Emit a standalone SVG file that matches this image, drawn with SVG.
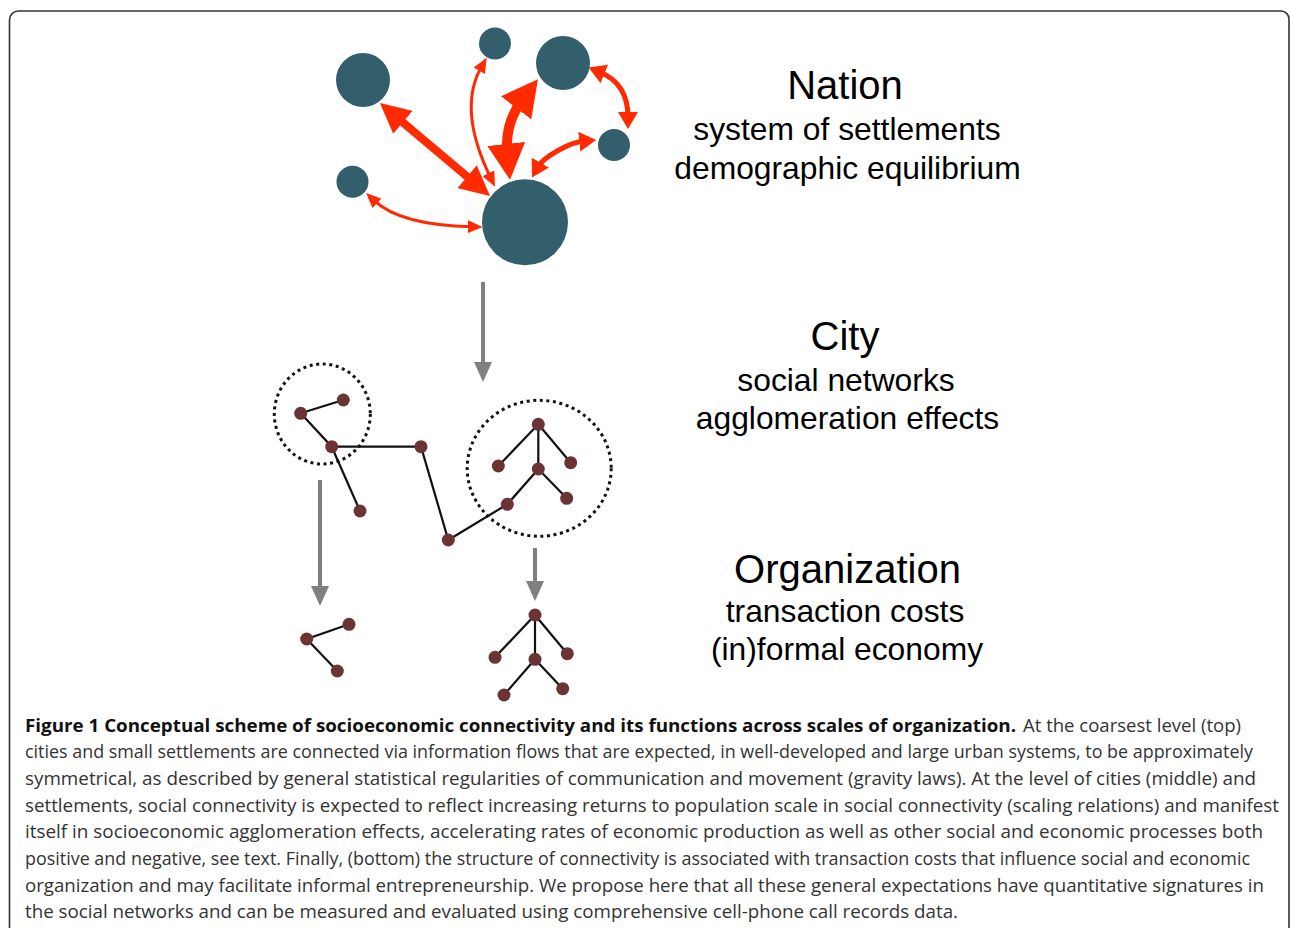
<svg xmlns="http://www.w3.org/2000/svg" width="1290" height="928" viewBox="0 0 1290 928">
  <style>
    .settlement { fill: #335e6b; }
    .flow { fill: none; stroke: #ff2a00; stroke-linecap: butt; }
    .scale { fill: none; stroke: #808080; stroke-width: 4; }
    .person { fill: #6b3333; }
    .tie { stroke: #111; stroke-width: 2.2; fill: none; }
    .group { fill: none; stroke: #111; stroke-width: 3; stroke-dasharray: 3 3.6; }
    .title { font-family: "Liberation Sans", Arial, sans-serif; font-size: 40px; fill: #000; text-anchor: middle; }
    .sub { font-family: "Liberation Sans", Arial, sans-serif; font-size: 31.8px; fill: #000; text-anchor: middle; }
    .cap { font-family: "Open Sans", "Noto Sans", sans-serif; font-size: 17.5px; fill: #333; }
    .capb { font-family: "Open Sans", "Noto Sans", sans-serif; font-size: 17.5px; font-weight: bold; fill: #111; }
  </style>
  <defs>
    <marker id="hs" viewBox="0 0 15 13" markerWidth="15" markerHeight="13" refX="4.5" refY="6.5" orient="auto-start-reverse" markerUnits="userSpaceOnUse">
      <path d="M0,0 L15,6.5 L0,13 z" fill="#ff2a00"/>
    </marker>
    <marker id="hm" viewBox="0 0 17 20" markerWidth="17" markerHeight="20" refX="5" refY="10" orient="auto-start-reverse" markerUnits="userSpaceOnUse">
      <path d="M0,0 L17,10 L0,20 z" fill="#ff2a00"/>
    </marker>
    <marker id="hl" viewBox="0 0 30 30" markerWidth="30" markerHeight="30" refX="9" refY="15" orient="auto-start-reverse" markerUnits="userSpaceOnUse">
      <path d="M0,0 L30,15 L0,30 z" fill="#ff2a00"/>
    </marker>
    <marker id="hx" viewBox="0 0 36 38" markerWidth="36" markerHeight="38" refX="11" refY="19" orient="auto-start-reverse" markerUnits="userSpaceOnUse">
      <path d="M0,0 L36,19 L0,38 z" fill="#ff2a00"/>
    </marker>
    <marker id="hg" viewBox="0 0 20 18" markerWidth="20" markerHeight="18" refX="6" refY="9" orient="auto" markerUnits="userSpaceOnUse">
      <path d="M0,0 L20,9 L0,18 z" fill="#808080"/>
    </marker>
  </defs>

  <!-- frame -->
  <path d="M9.5,928 V20 A9,9 0 0 1 18.5,11 H1281 A8,8 0 0 1 1289,19 V928" fill="none" stroke="#333" stroke-width="1.6"/>

  <g id="connectors">
    <!-- flows between settlements -->
    <path class="flow" stroke-width="8" d="M396,116.6 L474,182.4" marker-start="url(#hl)" marker-end="url(#hl)"/>
    <path class="flow" stroke-width="10" d="M522.8,99.1 Q504.1,123.7 507.4,154.9" marker-start="url(#hx)" marker-end="url(#hx)"/>
    <path class="flow" stroke-width="3" d="M481.5,66.8 Q457.2,108.9 490.4,177.3" marker-start="url(#hs)" marker-end="url(#hs)"/>
    <path class="flow" stroke-width="3" d="M373.7,200.2 Q400.3,225.4 472.2,226.8" marker-start="url(#hs)" marker-end="url(#hs)"/>
    <path class="flow" stroke-width="5" d="M584.2,141.1 C569.3,142.6 543.8,156.6 537.9,167" marker-start="url(#hm)" marker-end="url(#hm)"/>
    <path class="flow" stroke-width="5" d="M599.7,72 C620,80.3 628,95.6 628,117" marker-start="url(#hm)" marker-end="url(#hm)"/>

    <!-- scale transitions -->
    <path class="scale" d="M483,282 V368" marker-end="url(#hg)"/>
    <path class="scale" d="M320,480 V592" marker-end="url(#hg)"/>
    <path class="scale" d="M535,548 V587" marker-end="url(#hg)"/>

    <!-- city social network ties -->
    <path class="tie" d="M300.7,413.3 L343.3,400 M300.7,413.3 L331.7,446.7 L360,511 M331.7,446.7 L421,446.7 L448.3,540 L507.3,504.3 L538.3,469 L538.3,424.3 L498.3,466 M538.3,424.3 L570.7,462.7 M538.3,469 L566.7,498.3"/>

    <!-- organization ties -->
    <path class="tie" d="M349,624.3 L306.7,639 L337.3,671"/>
    <path class="tie" d="M535,615 L495,657.3 M535,615 L567.3,653.7 M535,615 L535,659.3 L504,695 M535,659.3 L562.7,688.7"/>
  </g>

  <!-- nation: settlements -->
  <g id="settlement-a"><circle class="settlement" cx="363" cy="80" r="27"/></g>
  <g id="settlement-b"><circle class="settlement" cx="495" cy="43.5" r="16"/></g>
  <g id="settlement-c"><circle class="settlement" cx="563" cy="63" r="27"/></g>
  <g id="settlement-d"><circle class="settlement" cx="614" cy="145" r="16"/></g>
  <g id="settlement-e"><circle class="settlement" cx="352.5" cy="181.7" r="16"/></g>
  <g id="settlement-f"><circle class="settlement" cx="525" cy="222.3" r="43"/></g>

  <!-- city: clusters -->
  <g id="cluster-left"><ellipse class="group" cx="322.3" cy="414" rx="48" ry="50"/></g>
  <g id="cluster-right"><ellipse class="group" cx="539.2" cy="468.3" rx="72" ry="68"/></g>

  <!-- city: people -->
  <g id="city-n1"><circle class="person" cx="300.7" cy="413.3" r="6.5"/></g>
  <g id="city-n2"><circle class="person" cx="343.3" cy="400" r="6.5"/></g>
  <g id="city-n3"><circle class="person" cx="331.7" cy="446.7" r="6.5"/></g>
  <g id="city-n4"><circle class="person" cx="360" cy="511" r="6.5"/></g>
  <g id="city-n5"><circle class="person" cx="421" cy="446.7" r="6.5"/></g>
  <g id="city-n6"><circle class="person" cx="448.3" cy="540" r="6.5"/></g>
  <g id="city-n7"><circle class="person" cx="507.3" cy="504.3" r="6.5"/></g>
  <g id="city-n8"><circle class="person" cx="538.3" cy="469" r="6.5"/></g>
  <g id="city-n9"><circle class="person" cx="538.3" cy="424.3" r="6.5"/></g>
  <g id="city-n10"><circle class="person" cx="498.3" cy="466" r="6.5"/></g>
  <g id="city-n11"><circle class="person" cx="570.7" cy="462.7" r="6.5"/></g>
  <g id="city-n12"><circle class="person" cx="566.7" cy="498.3" r="6.5"/></g>

  <!-- organization: small groups -->
  <g id="org-o1"><circle class="person" cx="306.7" cy="639" r="6.5"/></g>
  <g id="org-o2"><circle class="person" cx="349" cy="624.3" r="6.5"/></g>
  <g id="org-o3"><circle class="person" cx="337.3" cy="671" r="6.5"/></g>
  <g id="org-p1"><circle class="person" cx="535" cy="615" r="6.5"/></g>
  <g id="org-p2"><circle class="person" cx="495" cy="657.3" r="6.5"/></g>
  <g id="org-p3"><circle class="person" cx="567.3" cy="653.7" r="6.5"/></g>
  <g id="org-p4"><circle class="person" cx="535" cy="659.3" r="6.5"/></g>
  <g id="org-p5"><circle class="person" cx="504" cy="695" r="6.5"/></g>
  <g id="org-p6"><circle class="person" cx="562.7" cy="688.7" r="6.5"/></g>

  <!-- scale labels -->
  <g id="label-nation">
    <text class="title" x="845" y="99">Nation</text>
    <text class="sub" x="847" y="140">system of settlements</text>
    <text class="sub" x="847.5" y="178.5">demographic equilibrium</text>
  </g>
  <g id="label-city">
    <text class="title" x="845" y="349.5">City</text>
    <text class="sub" x="846" y="391">social networks</text>
    <text class="sub" x="847.5" y="429">agglomeration effects</text>
  </g>
  <g id="label-organization">
    <text class="title" x="847.5" y="583.3">Organization</text>
    <text class="sub" x="845" y="621.7">transaction costs</text>
    <text class="sub" x="847" y="660">(in)formal economy</text>
  </g>

  <!-- caption -->
  <g id="caption">
    <text class="capb" x="25" y="731.7" textLength="991" lengthAdjust="spacingAndGlyphs">Figure 1 Conceptual scheme of socioeconomic connectivity and its functions across scales of organization.</text>
    <text class="cap" x="1023" y="731.7" textLength="218" lengthAdjust="spacingAndGlyphs">At the coarsest level (top)</text>
    <text class="cap" x="25" y="758.3" textLength="1228" lengthAdjust="spacingAndGlyphs">cities and small settlements are connected via information flows that are expected, in well-developed and large urban systems, to be approximately</text>
    <text class="cap" x="25" y="785" textLength="1231" lengthAdjust="spacingAndGlyphs">symmetrical, as described by general statistical regularities of communication and movement (gravity laws). At the level of cities (middle) and</text>
    <text class="cap" x="25" y="811.7" textLength="1254" lengthAdjust="spacingAndGlyphs">settlements, social connectivity is expected to reflect increasing returns to population scale in social connectivity (scaling relations) and manifest</text>
    <text class="cap" x="25" y="838.3" textLength="1238" lengthAdjust="spacingAndGlyphs">itself in socioeconomic agglomeration effects, accelerating rates of economic production as well as other social and economic processes both</text>
    <text class="cap" x="25" y="865" textLength="1225" lengthAdjust="spacingAndGlyphs">positive and negative, see text. Finally, (bottom) the structure of connectivity is associated with transaction costs that influence social and economic</text>
    <text class="cap" x="25" y="891.7" textLength="1239" lengthAdjust="spacingAndGlyphs">organization and may facilitate informal entrepreneurship. We propose here that all these general expectations have quantitative signatures in</text>
    <text class="cap" x="25" y="918.3" textLength="933" lengthAdjust="spacingAndGlyphs">the social networks and can be measured and evaluated using comprehensive cell-phone call records data.</text>
  </g>
</svg>
